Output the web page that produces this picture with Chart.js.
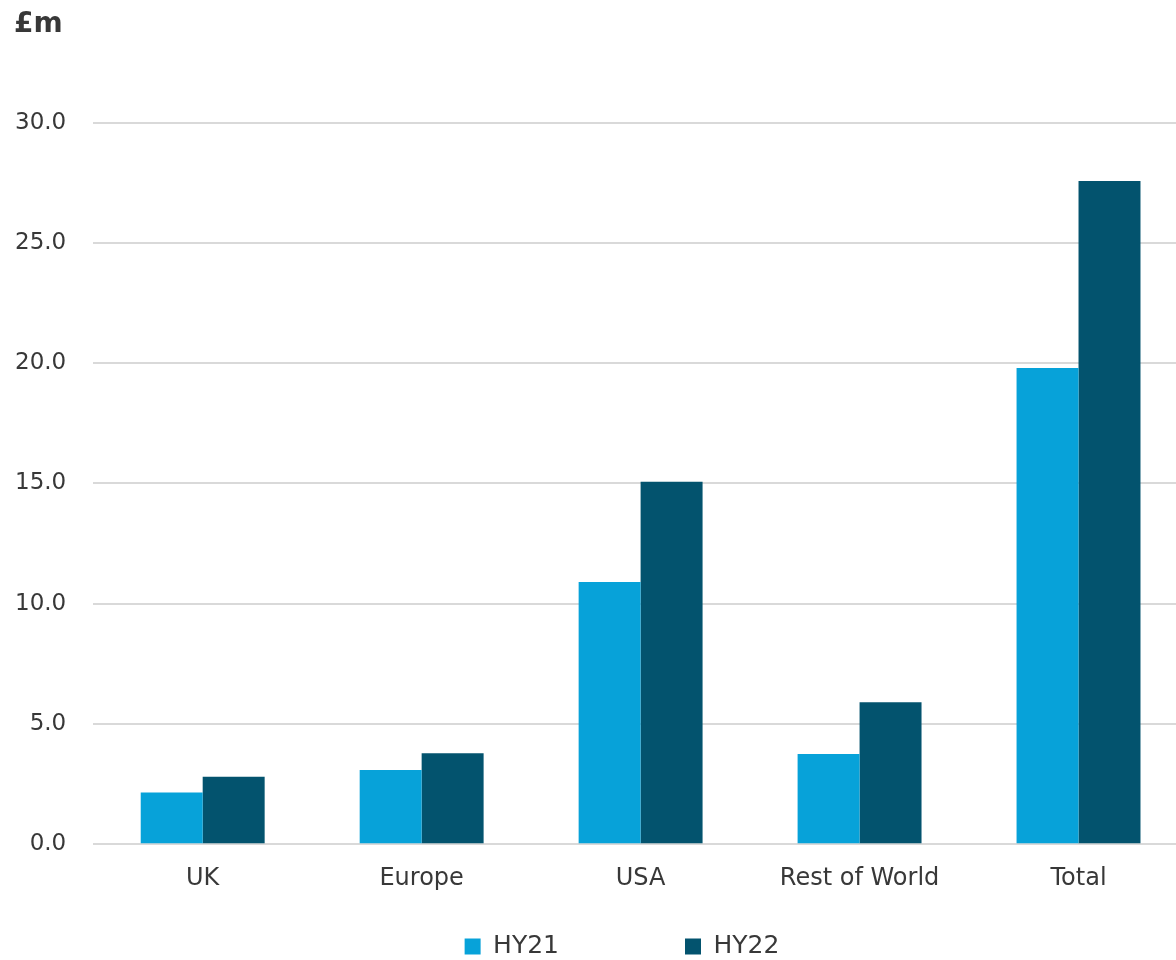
<!DOCTYPE html>
<html>
<head>
<meta charset="utf-8">
<script src="https://cdn.jsdelivr.net/npm/chart.js@4/dist/chart.umd.min.js"></script>
<style>
  html, body { margin: 0; padding: 0; background: #fff; overflow: hidden; }
  #wrap { width: 1188px; height: 960px; }
</style>
</head>
<body>
<div id="wrap"><canvas id="revChart"></canvas></div>
<script>
// values, £m
let regions = ["UK", "Europe", "USA", "Rest of World", "Total"];
let hy21 = [2.15, 3.08, 10.9, 3.75, 19.8];
let hy22 = [2.8, 3.78, 15.07, 5.9, 27.57];
let seriesNames = ["HY21", "HY22"];
let yTicks = [0, 5, 10, 15, 20, 25, 30];

let lightBlue = "#07a2d9";
let darkBlue = "#03536e";
let textColor = "#383838";
let fontName = "'DejaVu Sans', sans-serif";

// the legend padding also spaces the two items apart, which makes the box too tall;
// trim its height and lift the drawing back, nudged a bit right like the original
let legendCut = 110;
let legendLift = 97;
let legendShift = 21;
let legendSqueeze = {
    id: "legendSqueeze",
    beforeUpdate(chart) {
        let lg = chart.legend;
        if (!lg || lg._squeezed) return;
        let fit = lg.fit.bind(lg);
        let draw = lg.draw.bind(lg);
        lg.fit = function () { fit(); this.height -= legendCut; };
        lg.draw = function () {
            this.top -= legendLift;
            this.left += legendShift;
            this.right += legendShift;
            draw();
            this.top += legendLift;
            this.left -= legendShift;
            this.right -= legendShift;
        };
        lg._squeezed = true;
    }
};

let ctx = document.getElementById("revChart").getContext("2d");

let revChart = new Chart(ctx, {
    type: "bar",
    data: {
        labels: regions,
        datasets: [
            { label: seriesNames[0], data: hy21, backgroundColor: lightBlue },
            { label: seriesNames[1], data: hy22, backgroundColor: darkBlue }
        ]
    },
    options: {
        responsive: true,
        maintainAspectRatio: false,
        animation: false,
        devicePixelRatio: 1,
        layout: { padding: { left: 14, right: 0, top: 8, bottom: 4 } },
        datasets: {
            bar: { categoryPercentage: 0.566, barPercentage: 1.0 }
        },
        plugins: {
            title: {
                display: true,
                text: "£m",
                align: "start",
                color: textColor,
                font: { family: fontName, size: 28, weight: "bold" },
                padding: { top: 0, bottom: 81 }
            },
            legend: {
                display: true,
                position: "bottom",
                labels: {
                    color: textColor,
                    font: { family: fontName, size: 25 },
                    boxWidth: 16,
                    boxHeight: 16,
                    padding: 126
                }
            },
            tooltip: { enabled: false }
        },
        scales: {
            x: {
                grid: { display: false },
                border: { display: false },
                ticks: {
                    color: textColor,
                    font: { family: fontName, size: 24 },
                    padding: 12
                }
            },
            y: {
                min: 0,
                max: 30,
                afterBuildTicks: (axis) => { axis.ticks = yTicks.map(v => ({ value: v })); },
                afterFit: (axis) => { axis.width -= 26; },
                grid: { color: "#d9d9d9", lineWidth: 2, drawTicks: false },
                border: { display: false },
                ticks: {
                    color: textColor,
                    font: { family: fontName, size: 23 },
                    padding: 27,
                    callback: (v) => Number(v).toFixed(1)
                }
            }
        }
    },
    plugins: [legendSqueeze]
});
</script>
</body>
</html>
